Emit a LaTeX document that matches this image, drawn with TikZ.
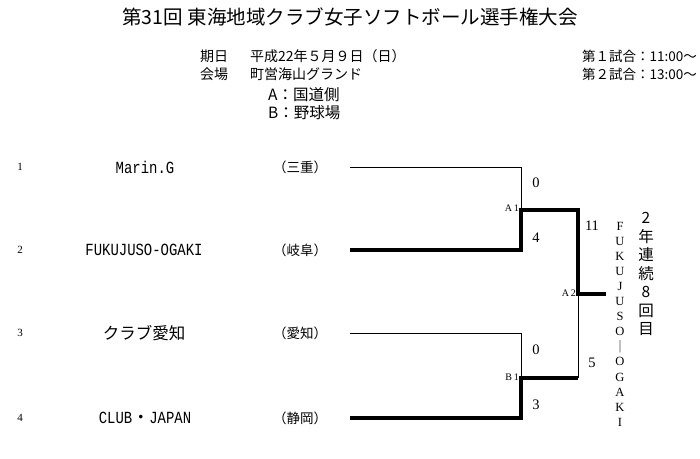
\documentclass[tikz,border=0pt]{standalone}
\usepackage{fontspec}
\setmainfont{Liberation Serif}
\newfontfamily\cjk{Noto Sans CJK JP}
\newfontfamily\teamfont[FakeStretch=0.82]{Liberation Mono}
\usetikzlibrary{positioning}

\begin{document}
\begin{tikzpicture}[x=1pt,y=-1pt,
	loser/.style={line width=0.9pt},
	winner/.style={line width=3.3pt},
	head/.style={anchor=west,inner sep=0pt,font=\cjk\fontsize{14}{14}\selectfont},
	team/.style={inner sep=0pt,font=\teamfont\fontsize{17}{17}\selectfont},
	pref/.style={inner sep=0pt,font=\cjk\fontsize{13.5}{13.5}\selectfont},
	seed/.style={inner sep=0pt,font=\fontsize{11}{11}\selectfont},
	score/.style={inner sep=0pt,font=\fontsize{14.5}{14.5}\selectfont},
	game/.style={inner sep=2pt,font=\fontsize{10}{10}\selectfont}]
	\useasboundingbox (0,0) rectangle (700,458);
	% title and header
	\node[inner sep=0pt,font=\cjk\fontsize{19.5}{19.5}\selectfont] (title) at (350,17) {第31回 東海地域クラブ女子ソフトボール選手権大会};
	\node[head] (datelbl) at (200,56) {期日};
	\node[head] (date) at (250,56) {平成22年５月９日（日）};
	\node[head] (venuelbl) at (200,74) {会場};
	\node[head] (venue) at (250,74) {町営海山グランド};
	\node[head,font=\cjk\fontsize{15.5}{15.5}\selectfont] (fielda) at (268,95) {A：国道側};
	\node[head,font=\cjk\fontsize{15.5}{15.5}\selectfont] (fieldb) at (268,113) {B：野球場};
	\node[head,font=\cjk\fontsize{13.5}{13.5}\selectfont] (time1) at (582,56) {第１試合：11:00～};
	\node[head,font=\cjk\fontsize{13.5}{13.5}\selectfont] (time2) at (582,74) {第２試合：13:00～};
	% teams
	\node[seed] (n1) at (20,167) {1};
	\node[seed] (n2) at (20,250) {2};
	\node[seed] (n3) at (20,333) {3};
	\node[seed] (n4) at (20,418) {4};
	\node[team] (t1) at (145,167) {Marin.G};
	\node[team] (t2) at (144,250) {FUKUJUSO-OGAKI};
	\node[team,font=\cjk\fontsize{16.5}{16.5}\selectfont] (t3) at (144,333) {クラブ愛知};
	\node[team] (t4) at (145,418) {CLUB{\cjk ・}JAPAN};
	\node[pref] (p1) at (300,167) {（三重）};
	\node[pref] (p2) at (300,250) {（岐阜）};
	\node[pref] (p3) at (300,333) {（愛知）};
	\node[pref] (p4) at (300,418) {（静岡）};
	% bracket
	\coordinate (s1) at (350,167);
	\coordinate (s2) at (350,250);
	\coordinate (s3) at (350,333);
	\coordinate (s4) at (350,418);
	\coordinate (a1) at (521,210);
	\coordinate (b1) at (521,378);
	\coordinate (a2) at (578,294);
	\coordinate (champ) at (606,294);
	\draw[loser] (s1) -| (a1);
	\draw[winner] (s2) -| (a1) -| (a2) -- (champ);
	\draw[loser] (s3) -| (b1);
	\draw[winner] (s4) -| (b1) -- (b1 -| a2);
	\draw[loser] (b1 -| a2) -- (a2);
	\node[game,left] (ga1) at ([yshift=2]a1) {A\,1};
	\node[game,left] (ga2) at ([yshift=1]a2) {A\,2};
	\node[game,left] (gb1) at ([yshift=1]b1) {B\,1};
	% scores
	\node[score] (sc1) at (536,183) {0};
	\node[score] (sc2) at (536,238) {4};
	\node[score] (sc3) at (536,350) {0};
	\node[score] (sc4) at (536,405) {3};
	\node[score] (sc5) at (592,226) {11};
	\node[score] (sc6) at (592,363) {5};
	% champion
	\foreach \ch [count=\i from 0] in {F,U,K,U,J,U,S,O,{\cjk ｜},O,G,A,K,I}
		\node[inner sep=0pt,font=\fontsize{12.5}{12.5}\selectfont] (v\i) at (620,226+15.1*\i) {\ch};
	\foreach \ch [count=\i from 0] in {2,年,連,続,8,回,目}
		\node[inner sep=0pt,font=\cjk\fontsize{15.5}{15.5}\selectfont] (w\i) at (646,218+18.5*\i) {\ch};
\end{tikzpicture}
\end{document}
